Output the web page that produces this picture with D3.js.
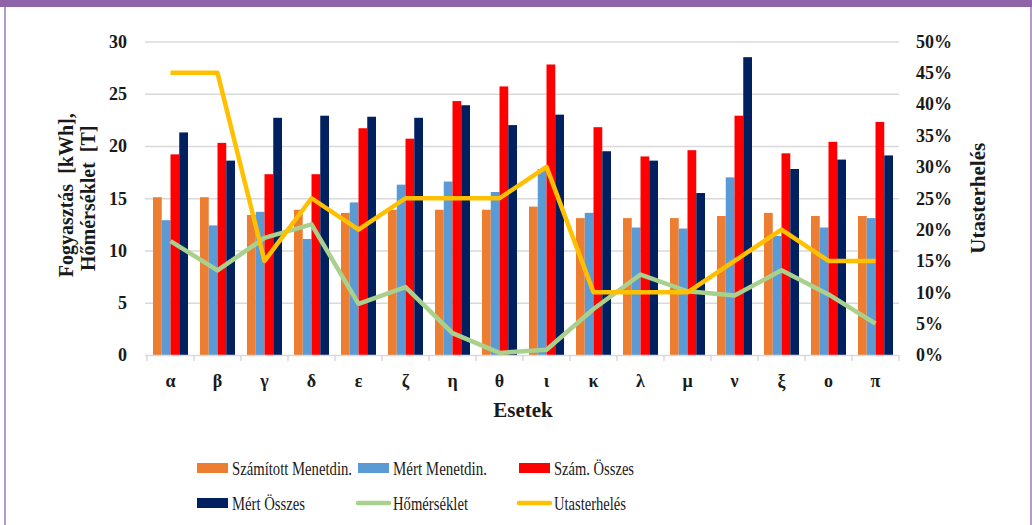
<!DOCTYPE html>
<html>
<head>
<meta charset="utf-8">
<script src="https://cdn.jsdelivr.net/npm/d3@7"></script>
<style>
html,body{margin:0;padding:0;background:#fff;}
svg{display:block;}
</style>
</head>
<body>
<svg id="chart" width="1032" height="525"></svg>
<script>
const categories = ['α','β','γ','δ','ε','ζ','η','θ','ι','κ','λ','μ','ν','ξ','ο','π'];
const szamitottMenetdin = [15.1,15.1,13.4,13.9,13.6,13.9,13.9,13.9,14.2,13.1,13.1,13.1,13.3,13.6,13.3,13.3];
const mertMenetdin = [12.9,12.4,13.7,11.1,14.6,16.3,16.6,15.6,17.8,13.6,12.2,12.1,17.0,11.4,12.2,13.1];
const szamOsszes = [19.2,20.3,17.3,17.3,21.7,20.7,24.3,25.7,27.8,21.8,19.0,19.6,22.9,19.3,20.4,22.3];
const mertOsszes = [21.3,18.6,22.7,22.9,22.8,22.7,23.9,22.0,23.0,19.5,18.6,15.5,28.5,17.8,18.7,19.1];
const homerseklet = [10.9,8.1,11.2,12.5,4.9,6.5,2.1,0.2,0.5,4.4,7.7,6.1,5.7,8.1,5.8,3.0];
const utasterheles = [0.45,0.45,0.15,0.25,0.20,0.25,0.25,0.25,0.30,0.10,0.10,0.10,0.15,0.20,0.15,0.15];
const leftTicks = [0,5,10,15,20,25,30];
const rightTicks = [0,0.05,0.10,0.15,0.20,0.25,0.30,0.35,0.40,0.45,0.50];

const barSeries = [
  {name:'Számított Menetdin.', values:szamitottMenetdin, color:'#ed7d31'},
  {name:'Mért Menetdin.', values:mertMenetdin, color:'#5b9bd5'},
  {name:'Szám. Összes', values:szamOsszes, color:'#ff0000'},
  {name:'Mért Összes', values:mertOsszes, color:'#002060'}
];
const lineSeries = [
  {name:'Hőmérséklet', values:homerseklet, color:'#a9d18e', axis:'left'},
  {name:'Utasterhelés', values:utasterheles, color:'#ffc000', axis:'right'}
];

const svg = d3.select('#chart');
const serif = '"Liberation Serif","Times New Roman",serif';

// frame
svg.append('rect').attr('x',0).attr('y',0).attr('width',1032).attr('height',7).attr('fill','#8e63a7');
svg.append('rect').attr('x',4).attr('y',7).attr('width',2).attr('height',518).attr('fill','#b39bc9');
svg.append('rect').attr('x',1030).attr('y',7).attr('width',2).attr('height',518).attr('fill','#b39bc9');

const plot = {left:147, right:899, top:41.5, bottom:355};

const x = d3.scaleBand().domain(categories).range([plot.left, plot.right]).paddingInner(0).paddingOuter(0);
const x1 = d3.scaleBand().domain(d3.range(barSeries.length)).range([6, x.bandwidth()-6]).padding(0);
const yL = d3.scaleLinear().domain([0,30]).range([plot.bottom, plot.top]);
const yR = d3.scaleLinear().domain([0,0.5]).range([plot.bottom, plot.top]);

// gridlines
svg.append('g').selectAll('line').data(leftTicks.filter(d=>d>0)).join('line')
  .attr('x1',plot.left-2).attr('x2',plot.right)
  .attr('y1',d=>yL(d)+0.5).attr('y2',d=>yL(d)+0.5)
  .attr('stroke','#d9d9d9').attr('stroke-width',1.5);

// bars
barSeries.forEach((s,i)=>{
  svg.append('g').selectAll('rect').data(s.values).join('rect')
    .attr('x',(d,j)=>x(categories[j])+x1(i))
    .attr('width',x1.bandwidth())
    .attr('y',d=>yL(d))
    .attr('height',d=>yL(0)-yL(d))
    .attr('fill',s.color);
});

// bottom axis
const gx = svg.append('g').attr('transform',`translate(0,${plot.bottom})`);
gx.append('line').attr('x1',plot.left-2).attr('x2',plot.right).attr('y1',0.5).attr('y2',0.5).attr('stroke','#d9d9d9').attr('stroke-width',1.5);
gx.selectAll('line.tk').data(d3.range(categories.length+1)).join('line').attr('class','tk')
  .attr('x1',d=>plot.left + d*x.bandwidth()).attr('x2',d=>plot.left + d*x.bandwidth())
  .attr('y1',0).attr('y2',6).attr('stroke','#d9d9d9').attr('stroke-width',1.5);
gx.selectAll('text').data(categories).join('text')
  .attr('x',d=>x(d)+x.bandwidth()/2).attr('y',32)
  .attr('text-anchor','middle')
  .attr('font-family',serif).attr('font-weight','bold').attr('font-size',18).attr('fill','#1a1a1a')
  .text(d=>d);

// left axis labels
const yAxisL = d3.axisLeft(yL).tickValues(leftTicks).tickSize(0).tickPadding(20);
const gyl = svg.append('g').attr('transform',`translate(${plot.left},0)`).call(yAxisL);
gyl.select('.domain').remove();
gyl.selectAll('text').attr('font-family',serif).attr('font-weight','bold').attr('font-size',18).attr('fill','#1a1a1a');

// right axis labels
const yAxisR = d3.axisRight(yR).tickValues(rightTicks).tickSize(0).tickPadding(17).tickFormat(d3.format('.0%'));
const gyr = svg.append('g').attr('transform',`translate(${plot.right},0)`).call(yAxisR);
gyr.select('.domain').remove();
gyr.selectAll('text').attr('font-family',serif).attr('font-weight','bold').attr('font-size',18).attr('fill','#1a1a1a');

// lines
lineSeries.forEach(s=>{
  const ys = s.axis==='left' ? yL : yR;
  const line = d3.line().x((d,j)=>x(categories[j])+x.bandwidth()/2).y(d=>ys(d));
  svg.append('path').datum(s.values).attr('d',line)
    .attr('fill','none').attr('stroke',s.color).attr('stroke-width',4.5)
    .attr('stroke-linejoin','round').attr('stroke-linecap','butt');
});

// axis titles
const midY = (plot.top+plot.bottom)/2;
svg.append('text').attr('transform',`translate(73,${midY-3}) rotate(-90)`)
  .attr('text-anchor','middle').attr('font-family',serif).attr('font-weight','bold').attr('font-size',20).attr('fill','#1a1a1a')
  .attr('xml:space','preserve')
  .text('Fogyasztás  [kWh],');
svg.append('text').attr('transform',`translate(95,${midY}) rotate(-90)`)
  .attr('text-anchor','middle').attr('font-family',serif).attr('font-weight','bold').attr('font-size',20).attr('fill','#1a1a1a')
  .attr('xml:space','preserve')
  .text('Hőmérséklet  [T]');
svg.append('text').attr('transform',`translate(985,${midY}) rotate(-90)`)
  .attr('text-anchor','middle').attr('font-family',serif).attr('font-weight','bold').attr('font-size',21).attr('fill','#1a1a1a')
  .text('Utasterhelés');
svg.append('text').attr('x',(plot.left+plot.right)/2).attr('y',417)
  .attr('text-anchor','middle').attr('font-family',serif).attr('font-weight','bold').attr('font-size',21).attr('fill','#1a1a1a')
  .text('Esetek');

// legend
const legendItems = [
  {s:barSeries[0], type:'bar', x:197, y:468, w:120},
  {s:barSeries[1], type:'bar', x:358, y:468, w:94},
  {s:barSeries[2], type:'bar', x:519, y:468, w:80},
  {s:barSeries[3], type:'bar', x:197, y:503, w:73},
  {s:lineSeries[0], type:'line', x:358, y:503, w:75},
  {s:lineSeries[1], type:'line', x:519, y:503, w:72}
];
const lg = svg.append('g');
legendItems.forEach(it=>{
  if(it.type==='bar'){
    lg.append('rect').attr('x',it.x).attr('y',it.y-5).attr('width',31).attr('height',10).attr('fill',it.s.color);
  } else {
    lg.append('line').attr('x1',it.x).attr('x2',it.x+31).attr('y1',it.y).attr('y2',it.y)
      .attr('stroke',it.s.color).attr('stroke-width',4.5).attr('stroke-linecap','round');
  }
  lg.append('text').attr('x',it.x+35).attr('y',it.y+7)
    .attr('font-family',serif).attr('font-size',19).attr('fill','#1a1a1a')
    .attr('textLength',it.w).attr('lengthAdjust','spacingAndGlyphs')
    .text(it.s.name);
});
</script>
</body>
</html>
